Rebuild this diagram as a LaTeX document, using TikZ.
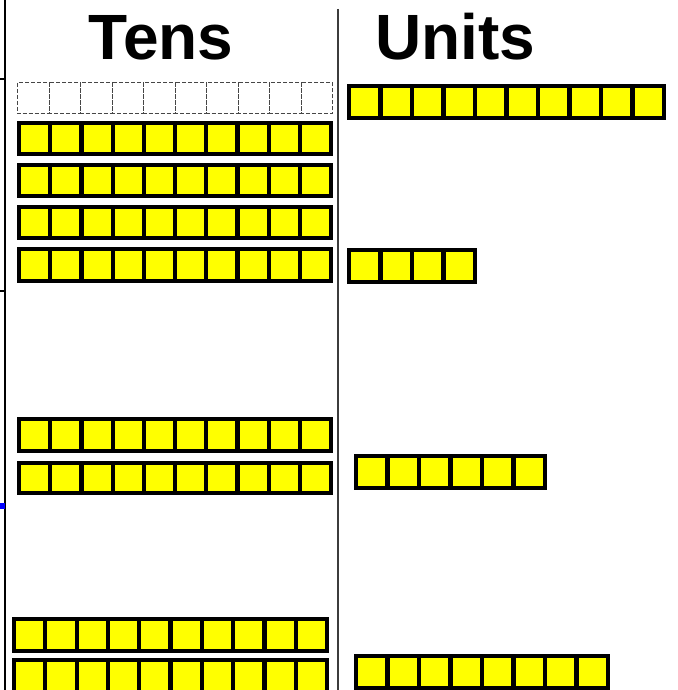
\documentclass[tikz,border=0pt]{standalone}
\usepackage{fontspec}
\setmainfont{Liberation Sans}
\usetikzlibrary{positioning}
\definecolor{blockyellow}{RGB}{255,255,0}
\definecolor{rulegray}{RGB}{60,60,60}
\definecolor{ghostgray}{RGB}{70,70,70}

% one bar of cells: style, left, top, right, bottom, number of cells
\newcommand{\blockrow}[6]{%
  \pgfmathsetmacro{\cellw}{(#4-#2-4)/#6}
  \foreach \i in {1,...,#6} {
    \draw[#1] ({#2+2+(\i-1)*\cellw},{#3+2}) rectangle ({#2+2+\i*\cellw},{#5-2});
  }
}

\begin{document}
\begin{tikzpicture}[x=1pt, y=-1pt,
    cell/.style={fill=blockyellow, draw=black, line width=4.2pt},
    ghost/.style={draw=ghostgray, dash pattern=on 4pt off 2pt, line width=1pt},
    title/.style={anchor=base, inner sep=0pt, font=\fontsize{64}{70}\selectfont\bfseries},
    divider/.style={draw=rulegray, line width=1.5pt},
    edge/.style={draw=black, line width=2pt}
]
\useasboundingbox (0,0) rectangle (677,690);

% headings
\node[title] (tens) at (161,60) {Tens};
\node[title] (units) at (455,60) {Units};

% frame lines
\draw[edge] (5,0) -- (5,690);
\draw[edge] (0,79) -- (5,79);
\draw[edge] (0,291) -- (5,291);
\fill[blue] (0,503) rectangle (5,509);
\draw[divider] (338,9) -- (338,690);

% tens column
\blockrow{ghost}{15.5}{81}{334.5}{116}{10}
\blockrow{cell}{17}{121}{333}{156}{10}
\blockrow{cell}{17}{163}{333}{198}{10}
\blockrow{cell}{17}{205}{333}{240}{10}
\blockrow{cell}{17}{247}{333}{283}{10}
\blockrow{cell}{17}{417}{333}{453}{10}
\blockrow{cell}{17}{461}{333}{495}{10}
\blockrow{cell}{12}{617}{329}{653}{10}
\blockrow{cell}{12}{658}{329}{694}{10}

% units column
\blockrow{cell}{347}{84}{666}{120}{10}
\blockrow{cell}{347}{248}{477}{284}{4}
\blockrow{cell}{354}{454}{547}{490}{6}
\blockrow{cell}{354}{654}{610}{690}{8}
\end{tikzpicture}
\end{document}
